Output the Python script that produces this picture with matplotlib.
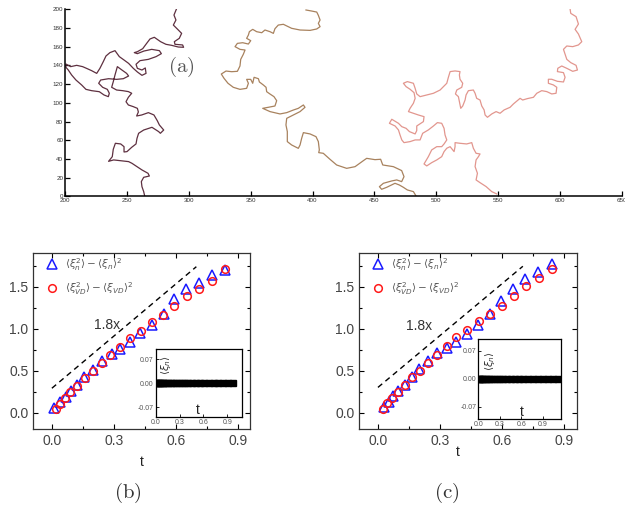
import matplotlib
matplotlib.use('Agg')
import matplotlib.pyplot as plt
from matplotlib.ticker import MultipleLocator, FormatStrFormatter

plt.rcParams['font.family'] = ['Liberation Sans', 'DejaVu Sans']
plt.rcParams['mathtext.fontset'] = 'dejavusans'

# ---- (a) three random walks, waypoints ----
walk1 = [(289.8, 200), (287.9, 193.9), (289.5, 188.6), (287.4, 183.2), (290.9, 178.6),
         (294.1, 174.3), (292.2, 169), (288.2, 165.4), (288.7, 162.6), (294.9, 161.9),
         (295.7, 159.4), (291.4, 159.7), (286, 161.5), (281.4, 162.6), (277.1, 165.4),
         (272, 170.1), (268.5, 168.3), (265.8, 163.6), (262.6, 157.9), (258.3, 154.7),
         (255.8, 153.7), (258.3, 152.6), (263.6, 155.4), (269.9, 157.2), (276.1, 155.8),
         (277.7, 152.6), (273.4, 149.4), (267.2, 146.5), (260.4, 145.1), (257.2, 141.2),
         (258.3, 136.9), (262, 135.1), (264.7, 137.3), (265.3, 131.5), (262, 129.4),
         (258.3, 133), (255, 136.9), (251.2, 142.2), (247.5, 145.8), (243.7, 149.4),
         (240.2, 155.8), (236.1, 153.7), (232.9, 150.1), (230.7, 144), (228, 136.9),
         (225.4, 131.5), (221.3, 134.4), (217.8, 136.5), (214, 138.7), (209.2, 140.1),
         (204.3, 138.7), (200.5, 141.5), (200.5, 138), (202.4, 135.1), (205.1, 129.8),
         (208.6, 124.4), (213.2, 119.1), (216.7, 114.4), (221.3, 113), (227.5, 111.9),
         (231.3, 108.4), (234.8, 106.6), (235.6, 110.2), (234, 114.4), (230.2, 116.6),
         (227, 120.9), (228.6, 124.4), (235, 125.8), (241.5, 125.1), (246.9, 125.8),
         (251.2, 128.7), (249.6, 131.5), (245.8, 135.1), (242.1, 138.7), (240.2, 129.8),
         (238.8, 122.6), (237.5, 116.6), (241.5, 113.7), (246.4, 113), (251, 112),
         (253.7, 110.2), (251, 105.9), (249.1, 101.2), (251, 97.7), (255, 95.9),
         (258.3, 94.1), (259.1, 90.2), (257.7, 85.9), (261.8, 87), (267.2, 89.5),
         (271.7, 87), (274.4, 80.9), (276.1, 76.3), (279.6, 70.9), (276.9, 67.4),
         (275.5, 69.2), (270.1, 73.8), (263.4, 70.9), (259.3, 67.4), (258, 62),
         (257.2, 56), (253.7, 52.4), (249.9, 47.8), (247.5, 47.4), (247.5, 53.1),
         (244.8, 56), (240.5, 56.7), (238.8, 50.3), (238, 42.4), (235, 37.4),
         (239.1, 38.9), (244.5, 38.1), (251.2, 37.1), (253.9, 35.3), (258, 31.7),
         (262, 28.2), (266.9, 24.6), (268, 21.7), (263.4, 20.3), (261.5, 15.7),
         (262, 10.3), (263.4, 5), (264.2, 0.4)]

walk2 = [(394.7, 199.3), (399.3, 198.2), (403.4, 197.1), (404.7, 193.6), (406.1, 188.6),
         (404.7, 185), (406.1, 181.5), (403.4, 179), (398, 177.5), (389.9, 177.9),
         (383.1, 179.7), (376.4, 184), (372.3, 183.2), (369.6, 179.3), (368.3, 174.3),
         (365.6, 176.1), (361.5, 177.9), (358.9, 175), (354.8, 176.1), (351.6, 178.6),
         (348.9, 176.1), (348.1, 172.5), (346.7, 169), (350, 166.5), (348.1, 162.9),
         (343.5, 164.3), (339.2, 163.6), (337.3, 160.1), (341.3, 157.2), (345.4, 156.5),
         (344, 151.9), (341.9, 146.5), (341.3, 139.4), (339.2, 133.7), (334.6, 133.3),
         (330, 134), (326.2, 130.8), (328.4, 126.2), (331.6, 120.9), (335.9, 116.6),
         (341.3, 114.4), (346.7, 115.5), (348.1, 120.9), (346.7, 125.1), (350, 125.1),
         (351.6, 120.9), (352.7, 127.3), (356.2, 125.8), (357, 122.3), (360.2, 119.1),
         (362.4, 116.6), (362.9, 111.9), (365.6, 109.4), (368.8, 106.6), (371, 102.3),
         (369.6, 96.6), (364.2, 95.2), (359.7, 94.1), (365.6, 90.6), (373.7, 88.1),
         (379.1, 89.5), (384.5, 92.3), (388.5, 94.1), (392.6, 97.7), (393.9, 95.2),
         (389.9, 90.6), (384.5, 87), (379.1, 83.4), (378.5, 76.3), (379.6, 69.2),
         (379.6, 58.5), (383.1, 54.9), (388.5, 51.3), (389.9, 54.9), (391.2, 62),
         (392.6, 68.1), (398, 66.7), (402.8, 63.8), (404.7, 58.5), (405.5, 49.6),
         (405, 46.7), (408.7, 46), (414.1, 39.6), (419.5, 33.5), (427.6, 29.9),
         (434.4, 31.7), (441.1, 38.1), (443.8, 40.6), (450.5, 39.2), (455.1, 39.6),
         (456.8, 33.5), (465.4, 31.7), (472.1, 27.5), (474, 21), (472.1, 15.7),
         (468.1, 17.5), (464, 16.4), (457.3, 13.9), (454.1, 10.3), (455.9, 7.5),
         (460, 9.6), (466.7, 13.9), (470.2, 12.1), (473.5, 9.6), (476.7, 6.8),
         (481.6, 5), (483.7, 0.4)]

walk3 = [(608.4, 200), (608.9, 195.7), (613.2, 192.2), (615.1, 184.3), (612.4, 178.6),
         (615.1, 173.6), (617.8, 165.4), (615.1, 161.9), (610.5, 160.1), (605.7, 160.8),
         (603, 157.2), (604.3, 152.2), (605.7, 146.5), (608.9, 143), (613.2, 140.1),
         (614.3, 135.1), (610.5, 133.7), (605.7, 136.9), (601.6, 139.4), (598.4, 136.9),
         (598.1, 133.4), (603, 132.3), (604.3, 127.3), (603, 122.3), (598.1, 123),
         (593.5, 125.2), (590.8, 125.2), (590.8, 120.9), (594.9, 119.1), (597.6, 116.6),
         (597, 110.2), (593.5, 109.5), (589.5, 112), (585.4, 113), (581.4, 110.2),
         (578.7, 105.9), (573.8, 104.5), (570, 103), (567.9, 104.8), (564.7, 101.3),
         (562.5, 98.8), (559.8, 95.2), (555, 92.4), (551.7, 88.8), (548.5, 90.6),
         (545, 88.1), (541.5, 84.5), (539.6, 87), (538.8, 92.4), (536.9, 96.6),
         (535.5, 103), (532.8, 104.8), (531.5, 110.2), (530.1, 113.7), (526.1, 113),
         (524.2, 108.4), (523.4, 103), (521.5, 96.6), (519.9, 94.1), (518.8, 101.3),
         (518, 106.6), (515.6, 109.5), (516.7, 113.7), (520.7, 116.6), (521.5, 120.9),
         (519.3, 125.2), (518.8, 129.8), (519.3, 133.4), (515.3, 134.1), (511.3, 133.4),
         (509.9, 127.3), (508.6, 120.9), (503.2, 113.7), (497.8, 110.2), (492.4, 108.4),
         (487, 106.6), (484.3, 109.5), (483, 115.5), (481.6, 120.9), (476.7, 122.7),
         (473.5, 120.9), (475.7, 117.3), (478.9, 114.5), (482.1, 110.9), (483, 104.8),
         (481.6, 99.5), (478.9, 94.1), (477.6, 90.6), (481.6, 88.8), (485.6, 87),
         (490.2, 85.2), (489.7, 79.9), (484.3, 75.2), (484.3, 70.3), (483, 66.7),
         (478.4, 69.2), (475.7, 72.7), (472.2, 74.5), (469.5, 78.1), (464.1, 82.4),
         (462.2, 78.1), (466.8, 75.2), (469.5, 71), (470.8, 65.6), (472.2, 60.3),
         (474, 57.4), (478.9, 58.5), (483, 60.3), (487, 60.3), (489.1, 67.4),
         (493.7, 71), (497.8, 75.2), (501, 78.8), (504.5, 78.1), (506.4, 72.7),
         (507.2, 65.6), (508.6, 60.3), (506.4, 56), (504.5, 53.1), (500.5, 53.1),
         (496.4, 49.6), (493.7, 42.4), (490.2, 34.6), (492.4, 32.5), (496.4, 36),
         (500.5, 38.9), (504.5, 42.4), (506.4, 47.8), (508.6, 51.4), (511.3, 53.1),
         (514.5, 47.8), (515.3, 53.1), (515.3, 57.4), (519.3, 56.7), (524.7, 56),
         (528.8, 57.4), (530.1, 51.4), (532.3, 46), (535.5, 45.3), (534.2, 42.4),
         (532.3, 38.9), (531.5, 31.8), (533.4, 24.6), (532.3, 17.5), (535.5, 14.6),
         (540.4, 10.4), (545, 5), (549, 2.5)]

walk_colors = ['#5e3040', '#a8825e', '#e2968e']

# ---- (b) and (c) variance vs t ----
b_tri_t = [0.010, 0.040, 0.069, 0.095, 0.124, 0.158, 0.200, 0.244, 0.289, 0.331,
           0.378, 0.428, 0.483, 0.541, 0.591, 0.651, 0.712, 0.774, 0.837]
b_tri_y = [0.05, 0.12, 0.19, 0.26, 0.33, 0.43, 0.51, 0.61, 0.70, 0.76,
           0.84, 0.95, 1.04, 1.18, 1.35, 1.47, 1.55, 1.64, 1.70]
b_cir_t = [0.018, 0.040, 0.063, 0.090, 0.124, 0.160, 0.199, 0.242, 0.284, 0.331,
           0.380, 0.430, 0.483, 0.538, 0.593, 0.653, 0.714, 0.774, 0.838]
b_cir_y = [0.04, 0.10, 0.17, 0.24, 0.32, 0.41, 0.49, 0.59, 0.69, 0.78,
           0.89, 0.97, 1.08, 1.16, 1.27, 1.39, 1.47, 1.57, 1.71]

c_tri_t = [0.027, 0.052, 0.073, 0.095, 0.129, 0.163, 0.200, 0.241, 0.286, 0.333,
           0.378, 0.428, 0.481, 0.540, 0.596, 0.654, 0.712, 0.775, 0.842]
c_tri_y = [0.07, 0.13, 0.20, 0.26, 0.33, 0.43, 0.52, 0.62, 0.71, 0.77,
           0.84, 0.94, 1.05, 1.18, 1.33, 1.47, 1.59, 1.68, 1.77]
c_cir_t = [0.024, 0.045, 0.068, 0.095, 0.129, 0.163, 0.202, 0.242, 0.286, 0.333,
           0.378, 0.431, 0.486, 0.541, 0.598, 0.657, 0.716, 0.779, 0.842]
c_cir_y = [0.04, 0.11, 0.17, 0.24, 0.33, 0.42, 0.49, 0.59, 0.69, 0.79,
           0.90, 0.99, 1.09, 1.18, 1.27, 1.39, 1.51, 1.60, 1.71]

b_guide_t = [0.0, 0.70]
b_guide_y = [0.29, 1.74]
c_guide_t = [0.0, 0.70]
c_guide_y = [0.30, 1.745]

# insets: mean of xi stays at zero
b_ins_t = [0.01, 0.02, 0.03, 0.04, 0.05, 0.07, 0.09, 0.11, 0.13, 0.16, 0.19, 0.22,
           0.25, 0.29, 0.33, 0.37, 0.41, 0.46, 0.51, 0.56, 0.61, 0.67, 0.73, 0.79,
           0.85, 0.91, 0.97]
b_ins_y = [0.0] * len(b_ins_t)
c_ins_t = [0.01, 0.02, 0.03, 0.05, 0.07, 0.09, 0.12, 0.15, 0.18, 0.22, 0.26, 0.30,
           0.35, 0.40, 0.45, 0.51, 0.57, 0.63, 0.69, 0.76, 0.83, 0.90, 0.97, 1.04,
           1.11]
c_ins_y = [0.0] * len(c_ins_t)

lab_n = r'$\langle\xi_n^2\rangle - \langle\xi_n\rangle^2$'
lab_vd = r'$\langle\xi_{VD}^2\rangle - \langle\xi_{VD}\rangle^2$'

fig = plt.figure(figsize=(6.25, 5.08), dpi=100)

# ---------- panel (a) ----------
ax = fig.add_axes([0.1045, 0.6136, 0.890, 0.368])
for w, col in zip([walk1, walk2, walk3], walk_colors):
    ax.plot([p[0] for p in w], [p[1] for p in w], color=col, lw=0.9)
ax.set_xlim(200, 650)
ax.set_ylim(0, 200)
ax.xaxis.set_major_locator(MultipleLocator(50))
ax.yaxis.set_major_locator(MultipleLocator(20))
ax.spines['top'].set_visible(False)
ax.spines['right'].set_visible(False)
for s in ['left', 'bottom']:
    ax.spines[s].set_linewidth(1.1)
ax.tick_params(direction='in', length=3.5, width=0.9, labelsize=4.5,
               labelcolor='#333333', pad=1.5)
ax.text(293.6, 138.7, r'$\mathrm{(a)}$', ha='center', va='center', fontsize=15,
        color='#555555', math_fontfamily='cm')


def panel(rect, tri_t, tri_y, cir_t, cir_y, gt, gy, note, leg_anchor):
    ax = fig.add_axes(rect)
    ax.plot(gt, gy, color='black', lw=1.0, dashes=(4, 3))
    ax.plot(tri_t, tri_y, ls='none', marker='^', ms=7, mfc='none', mec='#1a1aff',
            mew=1.1, label=lab_n)
    ax.plot(cir_t, cir_y, ls='none', marker='o', ms=5.5, mfc='none', mec='#ff1a1a',
            mew=1.1, label=lab_vd)
    ax.set_xlim(-0.09, 0.96)
    ax.set_ylim(-0.2, 1.9)
    ax.xaxis.set_major_locator(MultipleLocator(0.3))
    ax.xaxis.set_minor_locator(MultipleLocator(0.15))
    ax.yaxis.set_major_locator(MultipleLocator(0.5))
    ax.yaxis.set_minor_locator(MultipleLocator(0.25))
    ax.xaxis.set_major_formatter(FormatStrFormatter('%.1f'))
    ax.yaxis.set_major_formatter(FormatStrFormatter('%.1f'))
    ax.tick_params(which='both', direction='in', top=True, right=True,
                   labelsize=10, labelcolor='#444444', width=0.8)
    ax.tick_params(which='major', length=3.5)
    ax.tick_params(which='minor', length=2)
    for s in ax.spines.values():
        s.set_linewidth(0.9)
        s.set_color('#333333')
    ax.text(note[0], note[1], '1.8x', ha='center', va='center', fontsize=10,
            color='#333333')
    ax.legend(loc='upper left', bbox_to_anchor=leg_anchor, frameon=False,
              fontsize=7.5, handlelength=1.0, handletextpad=0.8, labelspacing=0.7,
              borderpad=0, borderaxespad=0, labelcolor='#555555')
    return ax


def inset(rect, t, y, xmax, ylab_pos, t_pos):
    ax = fig.add_axes(rect)
    ax.plot(t, y, ls='none', marker='s', ms=4.5, color='black')
    ax.set_xlim(0, xmax)
    ax.set_ylim(-0.1, 0.1)
    ax.set_xticks([0.0, 0.3, 0.6, 0.9])
    ax.set_yticks([-0.07, 0.0, 0.07])
    ax.xaxis.set_major_formatter(FormatStrFormatter('%.1f'))
    ax.yaxis.set_major_formatter(FormatStrFormatter('%.2f'))
    ax.tick_params(direction='in', length=2, width=0.6, labelsize=5,
                   labelcolor='#555555', pad=1.5)
    for s in ax.spines.values():
        s.set_linewidth(0.9)
    ax.text(ylab_pos[0], ylab_pos[1], r'$\langle\xi_n\rangle$', rotation=90,
            transform=ax.transAxes, ha='center', va='center', fontsize=7.5,
            color='#333333')
    ax.text(t_pos[0], t_pos[1], 't', transform=ax.transAxes, ha='center',
            va='center', fontsize=10, color='#222222')


panel([0.0533, 0.1549, 0.3467, 0.3465], b_tri_t, b_tri_y, b_cir_t, b_cir_y,
      b_guide_t, b_guide_y, (0.265, 1.05), (0.06, 0.985))
inset([0.2491, 0.1785, 0.1386, 0.1344], b_ins_t, b_ins_y, 1.09,
      (0.12, 0.76), (0.49, 0.11))

panel([0.5749, 0.1549, 0.3478, 0.3465], c_tri_t, c_tri_y, c_cir_t, c_cir_y,
      c_guide_t, c_guide_y, (0.200, 1.03), (0.06, 0.985))
inset([0.7653, 0.1752, 0.1318, 0.1575], c_ins_t, c_ins_y, 1.15,
      (0.14, 0.72), (0.53, 0.09))

fig.text(142 / 625, 1 - 462 / 508, 't', ha='center', va='center', fontsize=10,
         color='#222222')
fig.text(458 / 625, 1 - 452 / 508, 't', ha='center', va='center', fontsize=10,
         color='#222222')
fig.text(128 / 625, 1 - 493 / 508, r'$\mathrm{(b)}$', ha='center', va='center',
         fontsize=15, color='#333333', math_fontfamily='cm')
fig.text(446.7 / 625, 1 - 493 / 508, r'$\mathrm{(c)}$', ha='center', va='center',
         fontsize=15, color='#333333', math_fontfamily='cm')

fig.savefig('out.png', dpi=100)
